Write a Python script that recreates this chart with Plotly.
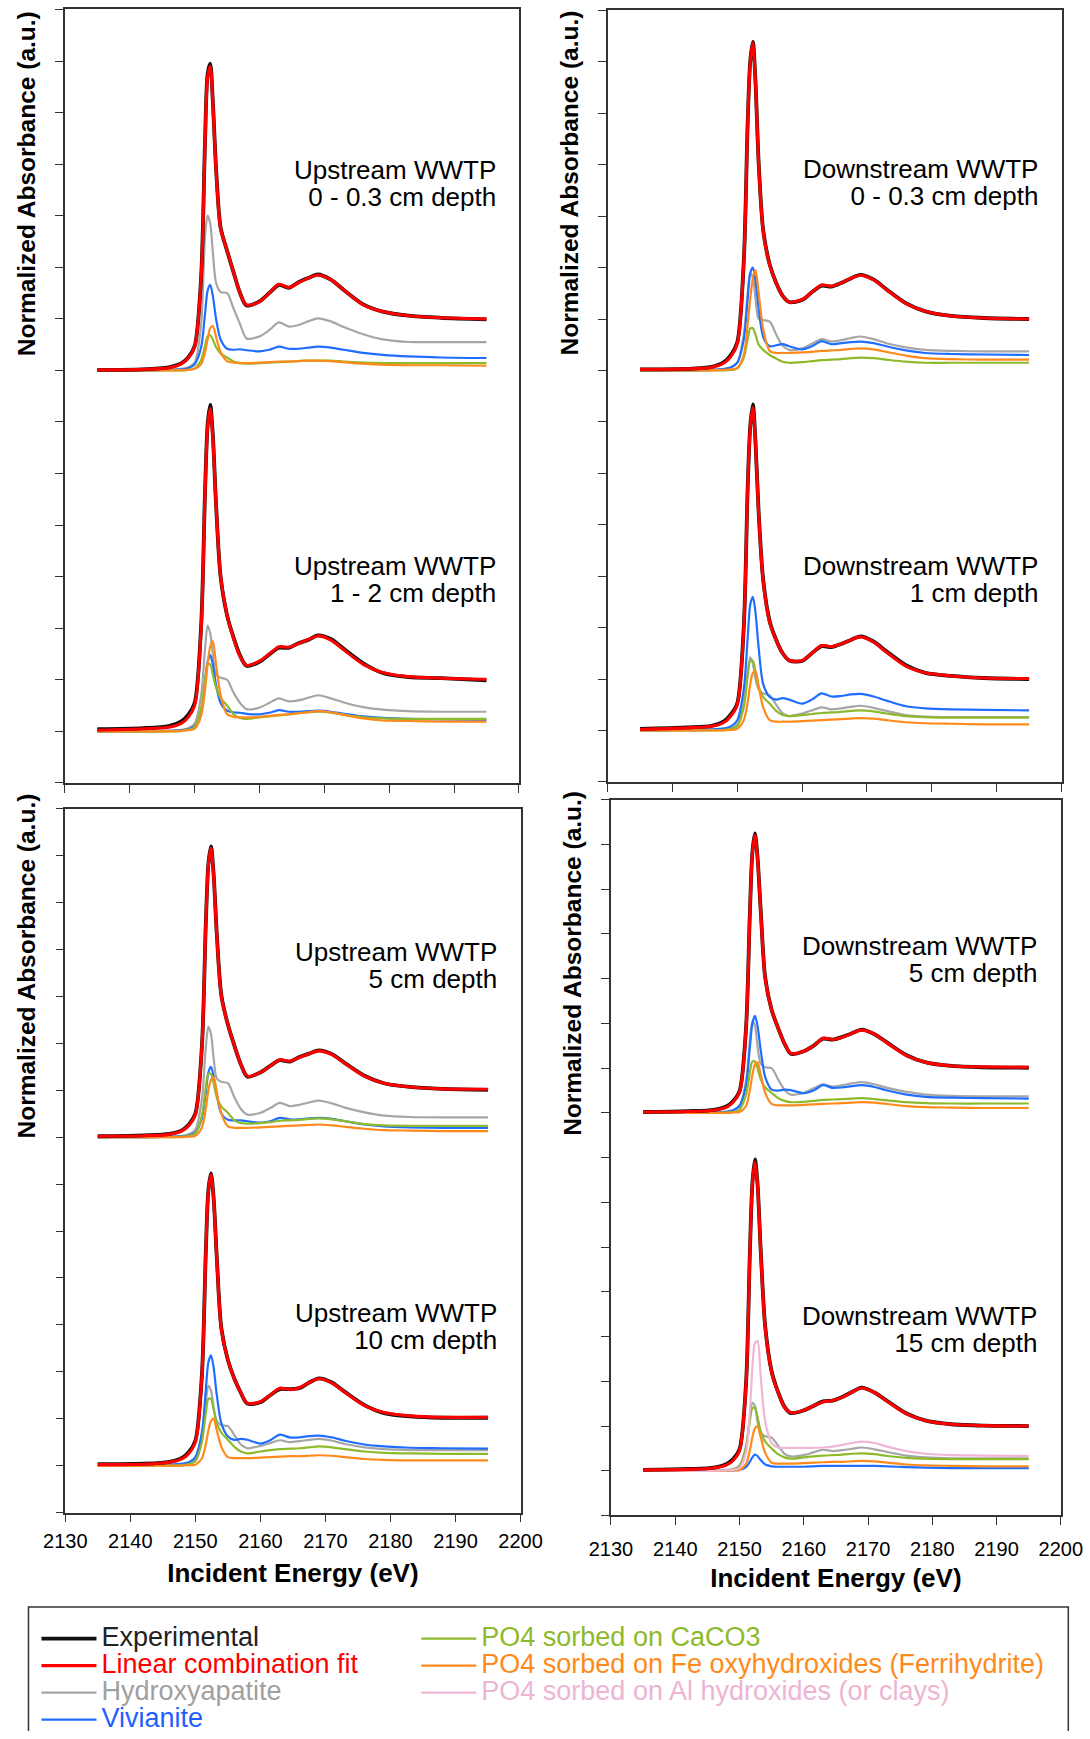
import plotly.graph_objects as go

W, H = 1090, 1739
FONT = "Liberation Sans, Arial, sans-serif"

# ---------------- data (normalized absorbance) ----------------
energy = [2135, 2142, 2146, 2148, 2149, 2150, 2151, 2151.6, 2152, 2152.4, 2152.8, 2153.3,
          2154, 2155, 2156, 2157, 2158, 2160, 2161.5, 2163, 2164.5, 2166, 2167.5, 2169,
          2171, 2173, 2176, 2179, 2183, 2188, 2195]

# Upstream 0 - 0.3 cm
up03_exp = [0.01,0.02,0.06,0.14,0.25,0.47,1.82,4.45,5.75,5.95,5.22,3.92,2.77,2.32,1.90,1.50,1.26,1.34,1.50,1.66,1.60,1.71,1.79,1.86,1.76,1.56,1.28,1.14,1.06,1.02,0.99]
up03_fit = [0.01,0.02,0.05,0.13,0.24,0.46,1.80,4.40,5.70,5.90,5.20,3.90,2.75,2.33,1.90,1.50,1.27,1.33,1.50,1.67,1.61,1.70,1.79,1.85,1.76,1.56,1.27,1.14,1.06,1.02,1.00]
up03_hap = [0,0,0.01,0.03,0.06,0.15,0.90,2.60,3.00,2.85,2.30,1.70,1.52,1.50,1.20,0.90,0.62,0.66,0.78,0.93,0.85,0.88,0.95,1.01,0.95,0.84,0.70,0.60,0.55,0.55,0.55]
up03_viv = [0,0,0.01,0.02,0.04,0.12,0.45,1.10,1.55,1.66,1.45,1.00,0.60,0.42,0.40,0.41,0.39,0.37,0.40,0.46,0.42,0.42,0.44,0.46,0.44,0.40,0.34,0.30,0.27,0.25,0.24]
up03_cac = [0,0,0,0,0.01,0.04,0.20,0.48,0.66,0.68,0.60,0.45,0.33,0.25,0.17,0.14,0.13,0.14,0.15,0.16,0.17,0.18,0.19,0.19,0.19,0.17,0.15,0.14,0.14,0.14,0.14]
up03_fer = [0,0,0,0,0.01,0.03,0.12,0.35,0.60,0.82,0.86,0.65,0.35,0.18,0.15,0.14,0.14,0.15,0.16,0.17,0.17,0.18,0.19,0.19,0.18,0.16,0.13,0.11,0.10,0.10,0.09]

# Upstream 1 - 2 cm
up12_exp = [0.04,0.06,0.10,0.20,0.32,0.55,2.05,4.65,5.95,6.33,5.75,4.40,3.00,2.25,1.82,1.47,1.27,1.35,1.49,1.62,1.62,1.71,1.77,1.86,1.79,1.60,1.32,1.13,1.05,1.03,0.99]
up12_fit = [0.02,0.05,0.08,0.16,0.27,0.50,2.00,4.60,5.90,6.26,5.70,4.40,3.00,2.25,1.80,1.45,1.28,1.36,1.50,1.64,1.63,1.70,1.78,1.85,1.77,1.58,1.30,1.14,1.06,1.03,1.01]
up12_hap = [0,0,0.01,0.03,0.06,0.15,0.70,1.60,2.05,1.90,1.50,1.10,1.04,1.00,0.75,0.55,0.43,0.46,0.55,0.64,0.58,0.60,0.65,0.70,0.64,0.56,0.47,0.42,0.39,0.38,0.38]
up12_viv = [0,0,0.01,0.02,0.04,0.10,0.40,0.95,1.35,1.48,1.30,0.90,0.55,0.40,0.37,0.36,0.34,0.33,0.36,0.41,0.38,0.38,0.39,0.40,0.38,0.34,0.29,0.26,0.24,0.23,0.22]
up12_cac = [0,0,0,0.01,0.03,0.08,0.45,1.00,1.30,1.30,1.10,0.85,0.65,0.50,0.33,0.26,0.24,0.27,0.29,0.31,0.33,0.35,0.37,0.38,0.36,0.32,0.27,0.25,0.24,0.24,0.24]
up12_fer = [0,0,0,0.01,0.02,0.05,0.30,0.80,1.30,1.65,1.75,1.30,0.70,0.33,0.28,0.27,0.27,0.28,0.30,0.32,0.33,0.35,0.37,0.39,0.37,0.32,0.25,0.21,0.20,0.19,0.19]

# Upstream 5 cm
up5_exp = [0.02,0.04,0.07,0.15,0.27,0.50,1.92,4.52,5.82,6.20,5.62,4.32,3.02,2.40,1.95,1.55,1.29,1.38,1.52,1.64,1.61,1.71,1.78,1.85,1.77,1.58,1.31,1.15,1.07,1.03,1.01]
up5_fit = [0.02,0.03,0.06,0.14,0.25,0.48,1.90,4.50,5.80,6.16,5.60,4.30,3.00,2.40,1.95,1.55,1.30,1.38,1.52,1.65,1.62,1.70,1.78,1.84,1.76,1.57,1.30,1.15,1.07,1.03,1.02]
up5_hap = [0,0,0.01,0.03,0.06,0.16,0.80,1.90,2.35,2.20,1.70,1.25,1.18,1.15,0.85,0.60,0.48,0.52,0.62,0.73,0.66,0.69,0.74,0.78,0.72,0.63,0.53,0.46,0.43,0.42,0.42]
up5_viv = [0,0,0.01,0.02,0.04,0.10,0.40,0.95,1.38,1.50,1.30,0.90,0.50,0.37,0.36,0.36,0.34,0.31,0.34,0.41,0.38,0.38,0.40,0.41,0.39,0.34,0.27,0.23,0.21,0.20,0.20]
up5_cac = [0,0,0,0.01,0.03,0.08,0.45,1.05,1.35,1.35,1.15,0.85,0.65,0.52,0.36,0.30,0.29,0.30,0.32,0.35,0.36,0.37,0.39,0.40,0.38,0.34,0.28,0.25,0.24,0.24,0.24]
up5_fer = [0,0,0,0,0.01,0.03,0.20,0.60,1.00,1.22,1.28,0.95,0.50,0.23,0.20,0.20,0.20,0.21,0.22,0.23,0.24,0.25,0.26,0.27,0.25,0.22,0.18,0.15,0.14,0.13,0.13]

# Upstream 10 cm
up10_exp = [0.03,0.04,0.08,0.17,0.29,0.53,1.92,4.52,5.87,6.23,5.72,4.42,2.92,2.25,1.85,1.55,1.32,1.35,1.50,1.63,1.63,1.65,1.77,1.86,1.77,1.57,1.29,1.12,1.05,1.02,1.02]
up10_fit = [0.02,0.03,0.07,0.15,0.26,0.50,1.90,4.50,5.85,6.20,5.70,4.40,2.90,2.25,1.85,1.55,1.33,1.36,1.50,1.65,1.62,1.66,1.77,1.85,1.76,1.56,1.28,1.13,1.06,1.03,1.03]
up10_hap = [0,0,0.01,0.02,0.05,0.13,0.60,1.35,1.70,1.60,1.25,0.95,0.86,0.84,0.65,0.45,0.37,0.42,0.48,0.54,0.50,0.52,0.55,0.57,0.53,0.46,0.39,0.35,0.33,0.33,0.33]
up10_viv = [0,0.01,0.02,0.04,0.07,0.18,0.70,1.60,2.20,2.35,2.10,1.50,0.90,0.62,0.55,0.57,0.55,0.47,0.54,0.66,0.60,0.60,0.63,0.64,0.60,0.53,0.45,0.41,0.38,0.37,0.36]
up10_cac = [0,0,0,0.01,0.03,0.09,0.50,1.10,1.42,1.42,1.20,0.90,0.70,0.55,0.40,0.30,0.26,0.30,0.33,0.35,0.36,0.37,0.39,0.41,0.39,0.35,0.30,0.27,0.26,0.25,0.25]
up10_fer = [0,0,0,0,0.01,0.02,0.15,0.45,0.75,0.95,1.00,0.75,0.40,0.18,0.16,0.16,0.16,0.17,0.18,0.19,0.20,0.20,0.21,0.22,0.21,0.18,0.14,0.12,0.11,0.11,0.11]

# Downstream 0 - 0.3 cm
dn03_exp = [0.02,0.03,0.07,0.17,0.30,0.55,2.12,4.82,6.02,6.39,5.62,4.02,2.72,2.06,1.70,1.45,1.33,1.37,1.52,1.65,1.63,1.70,1.79,1.86,1.77,1.58,1.31,1.15,1.06,1.02,1.00]
dn03_fit = [0.02,0.03,0.06,0.15,0.27,0.52,2.10,4.80,6.00,6.37,5.60,4.00,2.70,2.05,1.70,1.45,1.33,1.38,1.52,1.66,1.64,1.70,1.79,1.85,1.76,1.57,1.30,1.15,1.06,1.02,1.00]
dn03_hap = [0,0,0.01,0.02,0.05,0.15,0.70,1.50,1.90,1.80,1.40,1.00,0.98,0.95,0.70,0.48,0.40,0.43,0.52,0.61,0.56,0.59,0.63,0.66,0.61,0.53,0.45,0.40,0.38,0.37,0.37]
dn03_viv = [0,0,0.01,0.03,0.06,0.15,0.60,1.40,1.90,2.00,1.75,1.20,0.65,0.47,0.49,0.51,0.47,0.41,0.47,0.57,0.51,0.53,0.55,0.56,0.53,0.47,0.39,0.34,0.32,0.31,0.30]
dn03_cac = [0,0,0,0,0.01,0.04,0.25,0.60,0.82,0.82,0.70,0.50,0.40,0.30,0.23,0.17,0.15,0.16,0.18,0.20,0.21,0.22,0.24,0.25,0.24,0.21,0.17,0.15,0.15,0.15,0.15]
dn03_fer = [0,0,0,0.01,0.02,0.05,0.30,0.90,1.40,1.80,1.95,1.50,0.80,0.38,0.34,0.34,0.34,0.35,0.36,0.38,0.39,0.40,0.42,0.43,0.41,0.36,0.29,0.24,0.22,0.21,0.21]

# Downstream 1 cm
dn1_exp = [0.03,0.06,0.09,0.18,0.31,0.53,2.02,4.72,5.92,6.34,5.62,4.22,2.92,2.12,1.76,1.50,1.36,1.35,1.50,1.64,1.62,1.68,1.76,1.83,1.73,1.54,1.27,1.12,1.06,1.02,1.00]
dn1_fit = [0.02,0.05,0.08,0.16,0.28,0.50,2.00,4.70,5.90,6.28,5.60,4.20,2.90,2.10,1.75,1.50,1.36,1.36,1.50,1.65,1.63,1.68,1.76,1.82,1.72,1.52,1.25,1.12,1.06,1.02,1.01]
dn1_hap = [0,0,0.01,0.02,0.04,0.12,0.55,1.15,1.42,1.30,1.00,0.80,0.72,0.68,0.50,0.33,0.28,0.33,0.39,0.45,0.41,0.43,0.46,0.48,0.44,0.38,0.30,0.27,0.26,0.26,0.26]
dn1_viv = [0,0.01,0.02,0.04,0.08,0.20,0.80,1.80,2.45,2.60,2.30,1.60,0.90,0.65,0.60,0.63,0.60,0.52,0.60,0.72,0.66,0.67,0.70,0.71,0.66,0.58,0.47,0.43,0.41,0.40,0.39]
dn1_cac = [0,0,0,0.01,0.03,0.08,0.45,1.05,1.35,1.35,1.15,0.85,0.65,0.52,0.38,0.30,0.28,0.30,0.32,0.34,0.35,0.36,0.38,0.39,0.37,0.33,0.28,0.26,0.25,0.25,0.25]
dn1_fer = [0,0,0,0,0.01,0.03,0.20,0.55,0.90,1.12,1.15,0.85,0.45,0.20,0.17,0.17,0.17,0.18,0.19,0.20,0.21,0.22,0.23,0.24,0.23,0.20,0.16,0.14,0.13,0.12,0.12]

# Downstream 5 cm
dn5_exp = [0.02,0.04,0.07,0.15,0.26,0.48,1.87,4.42,5.82,6.25,5.72,4.52,3.02,2.30,1.90,1.55,1.32,1.38,1.50,1.66,1.64,1.70,1.78,1.86,1.76,1.57,1.29,1.13,1.05,1.02,1.01]
dn5_fit = [0.02,0.03,0.06,0.13,0.24,0.46,1.85,4.40,5.80,6.21,5.70,4.50,3.00,2.30,1.90,1.55,1.33,1.38,1.50,1.67,1.64,1.69,1.78,1.85,1.76,1.56,1.28,1.13,1.05,1.03,1.02]
dn5_hap = [0,0,0.01,0.02,0.05,0.15,0.70,1.60,2.05,1.95,1.50,1.10,1.02,1.00,0.75,0.52,0.41,0.45,0.55,0.64,0.59,0.62,0.66,0.69,0.64,0.56,0.47,0.41,0.38,0.37,0.37]
dn5_viv = [0,0,0.01,0.03,0.06,0.16,0.60,1.45,2.00,2.17,1.95,1.40,0.80,0.52,0.50,0.52,0.51,0.44,0.50,0.62,0.56,0.57,0.60,0.62,0.58,0.50,0.41,0.36,0.34,0.33,0.32]
dn5_cac = [0,0,0,0.01,0.02,0.07,0.40,0.90,1.15,1.15,1.00,0.75,0.57,0.45,0.33,0.27,0.24,0.25,0.27,0.29,0.30,0.31,0.32,0.33,0.31,0.28,0.24,0.22,0.21,0.21,0.21]
dn5_fer = [0,0,0,0,0.01,0.02,0.15,0.50,0.85,1.08,1.13,0.85,0.45,0.20,0.17,0.17,0.17,0.18,0.19,0.20,0.21,0.22,0.23,0.24,0.23,0.20,0.15,0.13,0.12,0.11,0.11]

# Downstream 15 cm
dn15_exp = [0.02,0.04,0.07,0.15,0.26,0.48,1.92,4.82,6.42,6.96,6.42,4.92,3.22,2.22,1.76,1.43,1.29,1.35,1.45,1.55,1.57,1.65,1.76,1.86,1.75,1.56,1.28,1.12,1.04,1.01,1.00]
dn15_fit = [0.02,0.03,0.06,0.13,0.23,0.45,1.90,4.80,6.40,6.90,6.40,4.90,3.20,2.20,1.75,1.42,1.30,1.35,1.45,1.54,1.57,1.64,1.76,1.85,1.75,1.55,1.27,1.12,1.04,1.01,1.00]
dn15_hap = [0,0,0.01,0.02,0.04,0.12,0.55,1.20,1.52,1.45,1.10,0.85,0.77,0.74,0.56,0.38,0.32,0.35,0.41,0.47,0.44,0.46,0.49,0.52,0.48,0.42,0.34,0.30,0.28,0.28,0.28]
dn15_viv = [0,0,0,0,0.01,0.02,0.08,0.20,0.30,0.36,0.33,0.24,0.14,0.10,0.09,0.09,0.09,0.09,0.10,0.11,0.11,0.11,0.11,0.11,0.11,0.10,0.08,0.07,0.06,0.06,0.06]
dn15_cac = [0,0,0,0.01,0.03,0.09,0.50,1.10,1.40,1.40,1.20,0.88,0.65,0.50,0.37,0.30,0.27,0.30,0.32,0.34,0.35,0.36,0.38,0.39,0.37,0.33,0.29,0.27,0.26,0.26,0.26]
dn15_fer = [0,0,0,0,0.01,0.02,0.15,0.45,0.75,0.95,0.99,0.75,0.40,0.18,0.16,0.16,0.16,0.17,0.18,0.19,0.20,0.20,0.21,0.22,0.21,0.18,0.14,0.12,0.11,0.10,0.10]
dn15_alh = [0,0,0,0.01,0.02,0.06,0.40,1.30,2.30,2.85,2.90,2.10,1.10,0.62,0.52,0.51,0.51,0.51,0.51,0.52,0.54,0.58,0.62,0.65,0.62,0.54,0.44,0.38,0.35,0.34,0.33]

# vertical stacking offsets of the two spectra in each panel
stack_offsets_upper = [8, 8, 8, 9]
stack_offsets_lower = [1, 1, 1, 1]

site_labels = ["Upstream WWTP", "Downstream WWTP", "Upstream WWTP", "Downstream WWTP"]
depth_upper = ["0 - 0.3 cm depth", "0 - 0.3 cm depth", "5 cm depth", "5 cm depth"]
depth_lower = ["1 - 2 cm depth", "1 cm depth", "10 cm depth", "15 cm depth"]

series_names = {
    "exp": "Experimental",
    "fit": "Linear combination fit",
    "hap": "Hydroxyapatite",
    "viv": "Vivianite",
    "cac": "PO4 sorbed on CaCO3",
    "fer": "PO4 sorbed on Fe oxyhydroxides (Ferrihydrite)",
    "alh": "PO4 sorbed on Al hydroxides (or clays)",
}

# ---------------- styles ----------------
line_colors = {"exp": "#111111", "fit": "#FF0000", "hap": "#A6A6A6", "viv": "#1F6EFF",
               "cac": "#8DBA2C", "fer": "#FF8A1C", "alh": "#F0B6D6"}
text_colors = {"exp": "#222222", "fit": "#FF0000", "hap": "#A0A0A0", "viv": "#1F5FFF",
               "cac": "#8DBA2C", "fer": "#FF8A1C", "alh": "#EDB4D3"}
line_widths = {"exp": 3.8, "fit": 3.1, "hap": 2.2, "viv": 2.2, "cac": 2.2, "fer": 2.2, "alh": 2.2}
legend_of = {"exp": "legend", "fit": "legend", "hap": "legend", "viv": "legend",
             "cac": "legend2", "fer": "legend2", "alh": "legend2"}
rank_of = {"exp": 1, "fit": 2, "hap": 3, "viv": 4, "cac": 5, "fer": 6, "alh": 7}
draw_order = ["hap", "viv", "cac", "fer", "alh", "exp", "fit"]

panels = [
    {"upper": dict(exp=up03_exp, fit=up03_fit, hap=up03_hap, viv=up03_viv, cac=up03_cac, fer=up03_fer),
     "lower": dict(exp=up12_exp, fit=up12_fit, hap=up12_hap, viv=up12_viv, cac=up12_cac, fer=up12_fer)},
    {"upper": dict(exp=dn03_exp, fit=dn03_fit, hap=dn03_hap, viv=dn03_viv, cac=dn03_cac, fer=dn03_fer),
     "lower": dict(exp=dn1_exp, fit=dn1_fit, hap=dn1_hap, viv=dn1_viv, cac=dn1_cac, fer=dn1_fer)},
    {"upper": dict(exp=up5_exp, fit=up5_fit, hap=up5_hap, viv=up5_viv, cac=up5_cac, fer=up5_fer),
     "lower": dict(exp=up10_exp, fit=up10_fit, hap=up10_hap, viv=up10_viv, cac=up10_cac, fer=up10_fer)},
    {"upper": dict(exp=dn5_exp, fit=dn5_fit, hap=dn5_hap, viv=dn5_viv, cac=dn5_cac, fer=dn5_fer),
     "lower": dict(exp=dn15_exp, fit=dn15_fit, hap=dn15_hap, viv=dn15_viv, cac=dn15_cac, fer=dn15_fer, alh=dn15_alh)},
]

# panel frames in screen pixels (left, right, top, bottom)
frames = [(62.6, 517.9, 8, 785), (606.9, 1062.2, 9, 784), (62.9, 519.6, 811, 1518), (610.3, 1061.5, 802, 1521)]
y_ranges = [[0, 15], [0, 15], [0, 15], [0, 16]]
# right edge x, centre y of the two-line label (upper spectrum, lower spectrum)
label_pos = [((497, 182.5), (497, 581)), ((1041, 182), (1041, 581)),
             ((498, 968), (498, 1331.5)), ((1040, 962), (1040, 1334))]
ytitle_pos = [(24, 183), (569, 182), (24, 969), (571, 966)]
ticklabel_shift = [0, 0, 2, 7]
title_standoff = [13, 13, 13, 10]

# the page shows the figure's paper over this horizontal span of the window
SCREEN_X0, PAPER_W = 19.5, 1049.2

def px(x):
    return (x - SCREEN_X0) / PAPER_W

def py(y):
    return 1 - (y + 1.5) / H

fig = go.Figure()
shown = set()
for i, panel in enumerate(panels):
    xa = "x" if i == 0 else f"x{i+1}"
    ya = "y" if i == 0 else f"y{i+1}"
    for part, off in (("upper", stack_offsets_upper[i]), ("lower", stack_offsets_lower[i])):
        data = panel[part]
        for key in draw_order:
            if key not in data:
                continue
            show = key not in shown
            shown.add(key)
            name = (f'<span style="color:{text_colors[key]};font-size:27px">'
                    f'{series_names[key]}</span>')
            fig.add_trace(go.Scatter(
                x=energy, y=[v + off for v in data[key]], mode="lines",
                line=dict(color=line_colors[key], width=line_widths[key], shape="spline", smoothing=0.8),
                name=name, showlegend=show, legend=legend_of[key], legendrank=rank_of[key],
                xaxis=xa, yaxis=ya, hoverinfo="skip"))

axis_line = dict(showline=True, linecolor="#333333", linewidth=1.5, mirror=True,
                 showgrid=False, zeroline=False, ticks="outside", ticklen=8, tickwidth=1.4,
                 tickcolor="#333333")
layout = {}
for i, (l, r, t, b) in enumerate(frames):
    sfx = "" if i == 0 else str(i + 1)
    bottom_row = i >= 2
    layout["xaxis" + sfx] = dict(
        axis_line, domain=[px(l), px(r)], range=[2130, 2200], tick0=2130, dtick=10,
        anchor="y" + sfx, showticklabels=bottom_row, ticklabelstandoff=ticklabel_shift[i],
        tickfont=dict(family=FONT, size=20, color="black"),
        title=dict(text="<b>Incident Energy (eV)</b>" if bottom_row else "",
                   font=dict(family=FONT, size=26, color="black"), standoff=title_standoff[i]))
    layout["yaxis" + sfx] = dict(
        axis_line, domain=[py(b), py(t)], range=y_ranges[i], tick0=0, dtick=1,
        anchor="x" + sfx, showticklabels=False)

annotations = []
for i in range(4):
    for (rx, yc), depth in zip(label_pos[i], (depth_upper[i], depth_lower[i])):
        txt = (f'<span style="font-size:26px">{site_labels[i]}</span><br>'
               f'<span style="font-size:26px">{depth}</span>')
        # base size 21 sets the spacing between the two lines
        annotations.append(dict(x=px(rx), y=py(yc), xref="paper", yref="paper", showarrow=False,
                                xanchor="right", yanchor="middle", align="right", text=txt,
                                font=dict(family=FONT, size=21, color="black")))
    tx, ty = ytitle_pos[i]
    annotations.append(dict(x=px(tx), y=py(ty), xref="paper", yref="paper", showarrow=False,
                            xanchor="center", yanchor="middle", textangle=-90,
                            text="<b>Normalized Absorbance (a.u.)</b>",
                            font=dict(family=FONT, size=24.5, color="black")))

legend_common = dict(orientation="v", xanchor="left", yanchor="top", bgcolor="rgba(0,0,0,0)",
                     borderwidth=0, traceorder="normal", tracegroupgap=0, itemwidth=55,
                     font=dict(family=FONT, size=18.5, color="black"))

fig.update_layout(
    width=W, height=H, autosize=False, margin=dict(l=0, r=0, t=0, b=0),
    paper_bgcolor="white", plot_bgcolor="white",
    annotations=annotations,
    legend=dict(legend_common, x=px(34), y=py(1626)),
    legend2=dict(legend_common, x=px(415), y=py(1626)),
    shapes=[dict(type="path", xref="paper", yref="paper",
                 path=f"M {px(26)},0 L {px(26)},{py(1613)} L {px(1069)},{py(1613)} L {px(1069)},0",
                 line=dict(color="#333333", width=1.5))],
    **layout)

post = ("document.documentElement.style.margin='0';document.documentElement.style.padding='0';"
        "document.body.style.margin='0';document.body.style.padding='0';"
        "document.body.style.overflow='hidden';"
        "var d=document.querySelector('.plotly-graph-div');"
        "d.style.position='absolute';d.style.left='0px';d.style.top='0px';")

fig.write_html("out.html", config={"displayModeBar": False, "responsive": False},
               post_script=post)
